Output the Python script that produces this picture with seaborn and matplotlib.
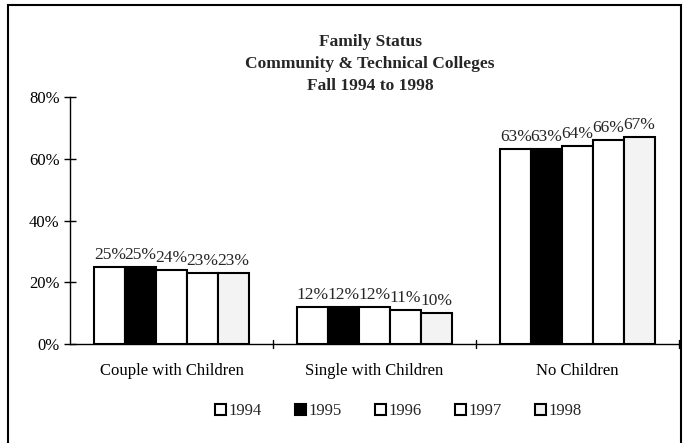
import pandas as pd
import matplotlib
matplotlib.use("Agg")
import matplotlib.pyplot as plt
import seaborn as sns
from matplotlib.patches import Rectangle
from matplotlib.ticker import FuncFormatter

# Dados
categories = ['Couple with Children', 'Single with Children', 'No Children']
years = ['1994', '1995', '1996', '1997', '1998']
v1994 = [25, 12, 63]
v1995 = [25, 12, 63]
v1996 = [24, 12, 64]
v1997 = [23, 11, 66]
v1998 = [23, 10, 67]

rows = []
for year, vals in zip(years, [v1994, v1995, v1996, v1997, v1998]):
    for cat, v in zip(categories, vals):
        rows.append({'Categoria': cat, 'Ano': year, 'Valor': v})
df = pd.DataFrame(rows)

sns.set_theme(style="white")
plt.rcParams['font.family'] = ['Liberation Serif', 'DejaVu Serif']

palette = ['white', 'black', 'white', 'white', '#f3f3f3']

fig = plt.figure(figsize=(6.83, 4.43), dpi=100)
ax = fig.add_axes([0.1025, 0.2235, 0.8915, 0.5575])

sns.barplot(data=df, x='Categoria', y='Valor', hue='Ano', order=categories,
            hue_order=years, palette=palette, edgecolor='black', linewidth=1.5,
            width=0.76, saturation=1, ax=ax, legend=False)

ax.set_ylim(0, 80)
ax.set_xlim(-0.5, 2.5)
ax.set_yticks([0, 20, 40, 60, 80])
ax.yaxis.set_major_formatter(FuncFormatter(lambda v, p: f'{v:.0f}%'))
ax.set_xlabel('')
ax.set_ylabel('')
ax.tick_params(axis='y', labelsize=12, direction='inout', length=8, width=1,
               left=True, colors='black')
ax.tick_params(axis='x', labelsize=12, length=0, pad=14, colors='black')

# Marcas entre as categorias no eixo x
for xb in [0.5, 1.5, 2.5]:
    ax.plot([xb, xb], [-1.2, 1.2], color='black', lw=1, clip_on=False)

for side in ['top', 'right']:
    ax.spines[side].set_visible(False)
for side in ['left', 'bottom']:
    ax.spines[side].set_color('black')
    ax.spines[side].set_linewidth(1)

# Rótulos de valores
for container in ax.containers:
    ax.bar_label(container, labels=[f'{v:.0f}%' for v in container.datavalues],
                 fontsize=12.5, padding=3)

# Título
fig.text(0.542, 0.905, 'Family Status', ha='center', va='center',
         fontsize=12.5, fontweight='bold')
fig.text(0.542, 0.855, 'Community & Technical Colleges', ha='center', va='center',
         fontsize=12.5, fontweight='bold')
fig.text(0.542, 0.806, 'Fall 1994 to 1998', ha='center', va='center',
         fontsize=12.5, fontweight='bold')

# Legenda
handles = [Rectangle((0, 0), 1, 1, facecolor=c, edgecolor='black', lw=1.5)
           for c in palette]
fig.legend(handles, years, loc='center', bbox_to_anchor=(0.583, 0.072), ncol=5,
           frameon=False, fontsize=12, handlelength=0.65, handleheight=0.65,
           handletextpad=0.15, columnspacing=2.0)

# Moldura
fig.patches.append(Rectangle((8 / 683, -0.05), 673 / 683, 1.05 - 5 / 443,
                             transform=fig.transFigure, fill=False,
                             edgecolor='black', lw=1.5))

fig.savefig('out.png', dpi=100)
